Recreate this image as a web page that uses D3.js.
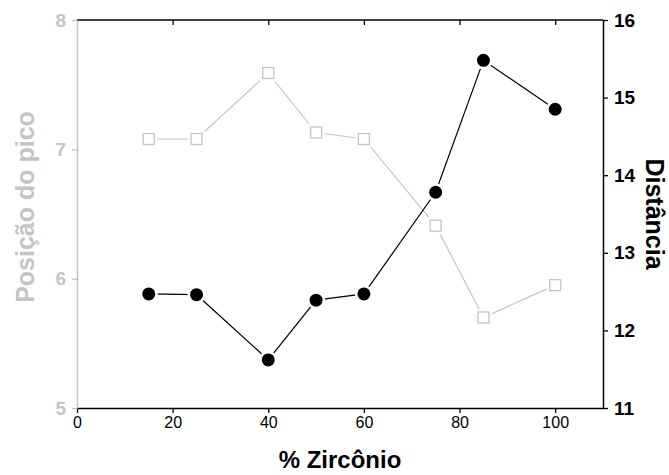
<!DOCTYPE html>
<html>
<head>
<meta charset="utf-8">
<script src="https://cdn.jsdelivr.net/npm/d3@7"></script>
<style>
body{margin:0;background:#fff;}
svg{display:block;font-family:"Liberation Sans",Arial,sans-serif;}
</style>
</head>
<body>
<svg id="chart" width="669" height="475"></svg>
<script>
const zirconio = [15, 25, 40, 50, 60, 75, 85, 100];
const posicaoPico = [7.08, 7.08, 7.59, 7.13, 7.08, 6.41, 5.70, 5.95];
const distancia = [12.47, 12.46, 11.62, 12.39, 12.47, 13.78, 15.48, 14.85];
const xTicks = [0, 20, 40, 60, 80, 100];
const leftTicks = [5, 6, 7, 8];
const rightTicks = [11, 12, 13, 14, 15, 16];

const gray = "#c4c4c4";
const svg = d3.select("#chart");
const L = 77, R = 603, T = 20, B = 408;
const fmt = d3.format("d");

const x = d3.scaleLinear().domain([0, 110]).range([L, R]);
const yL = d3.scaleLinear().domain([5, 8]).range([B, T]);
const yR = d3.scaleLinear().domain([11, 16]).range([B, T]);

// bottom axis
const gB = svg.append("g").attr("transform", `translate(0,${B})`);
gB.call(d3.axisBottom(x).tickValues(d3.range(0, 111, 10)).tickSize(3).tickFormat(""))
  .call(g => g.select(".domain").remove());
gB.call(d3.axisBottom(x).tickValues(xTicks).tickSize(5).tickSizeOuter(0).tickPadding(4).tickFormat(fmt))
  .call(g => g.select(".domain").attr("stroke-width", 1.5));
gB.selectAll("line").attr("stroke", "#000").attr("stroke-width", 1.3);
gB.selectAll("text").attr("font-size", 16).attr("fill", "#000");

// top axis (ticks inward)
const gT = svg.append("g").attr("transform", `translate(0,${T})`);
gT.call(d3.axisBottom(x).tickValues(d3.range(10, 111, 20)).tickSize(3).tickFormat(""))
  .call(g => g.select(".domain").remove());
gT.call(d3.axisBottom(x).tickValues(d3.range(20, 111, 20)).tickSize(5).tickSizeOuter(0).tickFormat(""))
  .call(g => g.select(".domain").remove());
gT.append("line").attr("x1", L).attr("x2", R).attr("stroke", "#000").attr("stroke-width", 1.5);
gT.selectAll("line").attr("stroke", "#000").attr("stroke-width", 1.3);

// left axis (gray)
const gL = svg.append("g").attr("transform", `translate(${L},0)`);
gL.call(d3.axisLeft(yL).tickValues(d3.range(5.5, 8, 1)).tickSize(3).tickFormat(""))
  .call(g => g.select(".domain").remove());
gL.call(d3.axisLeft(yL).tickValues(leftTicks).tickSize(5).tickSizeOuter(0).tickPadding(6).tickFormat(fmt));
gL.selectAll("line").attr("stroke", gray).attr("stroke-width", 1.3);
gL.select(".domain").attr("stroke", gray).attr("stroke-width", 1.5);
gL.selectAll("text").attr("font-size", 19).attr("font-weight", "bold").attr("fill", gray);

// right axis
const gR = svg.append("g").attr("transform", `translate(${R},0)`);
gR.call(d3.axisRight(yR).tickValues(d3.range(11.5, 16, 1)).tickSize(3).tickFormat(""))
  .call(g => g.select(".domain").remove());
gR.call(d3.axisRight(yR).tickValues(rightTicks).tickSize(5).tickSizeOuter(0).tickPadding(6).tickFormat(fmt));
gR.selectAll("line").attr("stroke", "#000").attr("stroke-width", 1.3);
gR.select(".domain").attr("stroke", "#000").attr("stroke-width", 1.5);
gR.selectAll("text").attr("font-size", 19).attr("font-weight", "bold").attr("fill", "#000");

// axis titles
svg.append("text").attr("x", L + (R - L) / 2).attr("y", 468)
  .attr("text-anchor", "middle").attr("font-size", 24).attr("font-weight", "bold")
  .text("% Zircônio");
svg.append("text").attr("transform", `translate(34,207) rotate(-90)`)
  .attr("text-anchor", "middle").attr("font-size", 25).attr("font-weight", "bold")
  .attr("fill", gray).text("Posição do pico");
svg.append("text").attr("transform", `translate(646,${(T + B) / 2}) rotate(90)`)
  .attr("text-anchor", "middle").attr("font-size", 25).attr("font-weight", "bold")
  .text("Distância");

// data
const dataL = zirconio.map((z, i) => ({x: z, y: posicaoPico[i]}));
const dataR = zirconio.map((z, i) => ({x: z, y: distancia[i]}));

// gray series (squares)
svg.append("path").datum(dataL)
  .attr("d", d3.line().x(d => x(d.x)).y(d => yL(d.y)))
  .attr("fill", "none").attr("stroke", gray).attr("stroke-width", 1.2);
const sq = 11;
svg.selectAll(".sqbg").data(dataL).join("rect")
  .attr("x", d => x(d.x) - sq / 2 - 3).attr("y", d => yL(d.y) - sq / 2 - 3)
  .attr("width", sq + 6).attr("height", sq + 6).attr("fill", "#fff");
svg.selectAll(".sq").data(dataL).join("rect")
  .attr("x", d => x(d.x) - sq / 2).attr("y", d => yL(d.y) - sq / 2)
  .attr("width", sq).attr("height", sq)
  .attr("fill", "#fff").attr("stroke", gray).attr("stroke-width", 1.3);

// black series (circles)
svg.append("path").datum(dataR)
  .attr("d", d3.line().x(d => x(d.x)).y(d => yR(d.y)))
  .attr("fill", "none").attr("stroke", "#000").attr("stroke-width", 1.2);
svg.selectAll(".cbg").data(dataR).join("circle")
  .attr("cx", d => x(d.x)).attr("cy", d => yR(d.y)).attr("r", 9).attr("fill", "#fff");
svg.selectAll(".c").data(dataR).join("circle")
  .attr("cx", d => x(d.x)).attr("cy", d => yR(d.y)).attr("r", 6.5).attr("fill", "#000");
</script>
</body>
</html>
